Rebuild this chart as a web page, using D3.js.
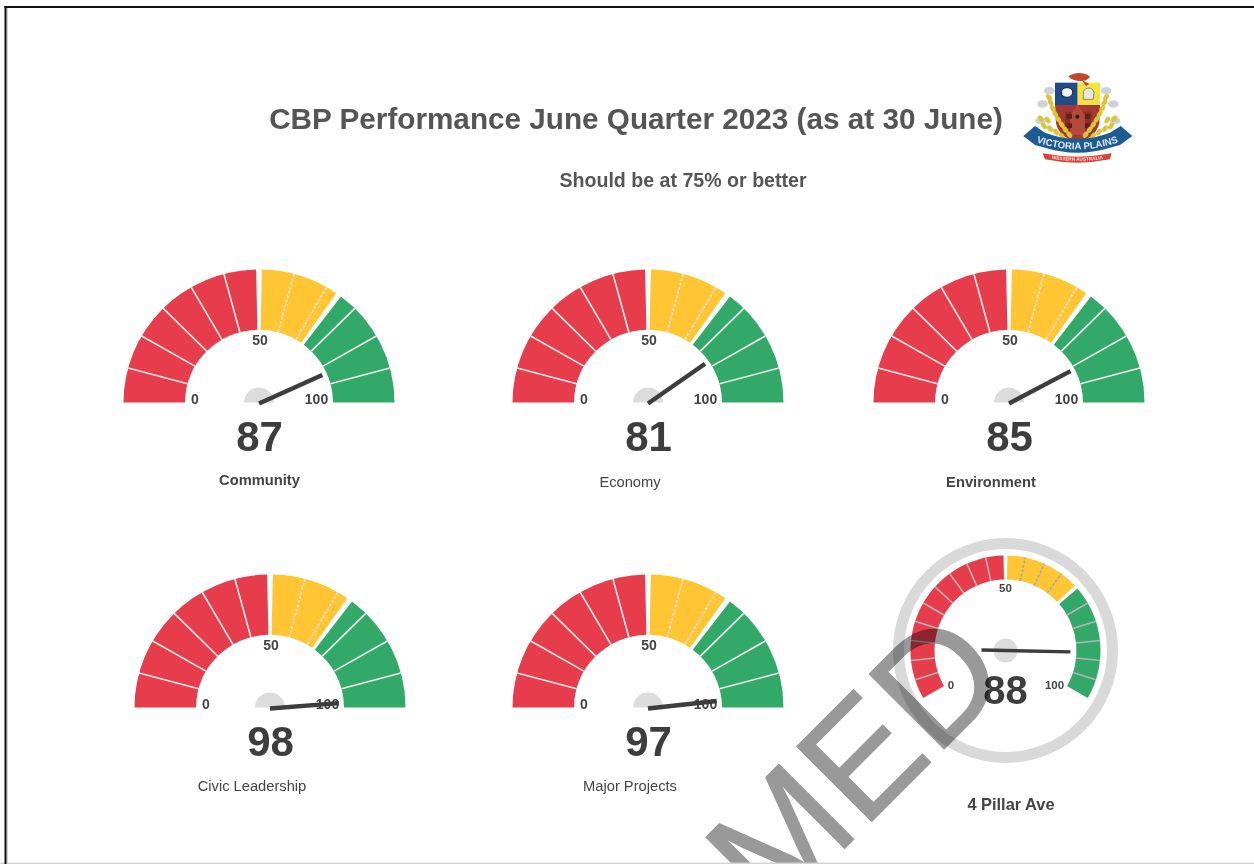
<!DOCTYPE html>
<html><head><meta charset="utf-8">
<script src="https://cdn.jsdelivr.net/npm/d3@7"></script>
<style>
html,body{margin:0;padding:0;background:#fff}
svg{display:block}
text{font-family:"Liberation Sans",Arial,sans-serif}
</style></head><body>
<svg id="c" width="1254" height="864"></svg>
<script>
// ---- data ----
const titleText = "CBP Performance June Quarter 2023 (as at 30 June)";
const subtitleText = "Should be at 75% or better";
const gaugeNames = ["Community","Economy","Environment","Civic Leadership","Major Projects","4 Pillar Ave"];
const gaugeValues = [87,81,85,98,97,88];
const nameIsBold = [true,false,true,false,false,true];
const bandStarts = [0,50,70];
const bandEnds = [50,70,100];
const bandColors = ["#e63c4b","#ffc533","#32a968"];
const tickLabels = [0,50,100];
const semiDivisions = 12;
const roundDivisions = 20;

// ---- layout ----
const semiLayout = [
  {cx:259,cy:402.5,nameX:259.5,nameY:485},
  {cx:648,cy:402.5,nameX:630,nameY:487},
  {cx:1009,cy:402.5,nameX:991,nameY:487},
  {cx:270,cy:707.5,nameX:252,nameY:791},
  {cx:648,cy:707.5,nameX:630,nameY:791}
];
const round = {cx:1005.5,cy:650.5,nameX:1011,nameY:810};

const svg = d3.select("#c");
const rad = d => d*Math.PI/180;
const ink = "#3d3d3d";

function polar(a,r){ return [r*Math.sin(a), -r*Math.cos(a)]; }

function drawGauge(g,o){
  const angle = d3.scaleLinear().domain([0,100]).range(o.range);
  const arc = d3.arc().innerRadius(o.inner).outerRadius(o.outer);
  const ticks = d3.range(1,o.divisions).map(i=>i*100/o.divisions)
    .filter(t=>!bandStarts.includes(Math.round(t)) );
  g.selectAll("path.band").data(bandStarts).join("path")
    .attr("class","band")
    .attr("fill",(d,i)=>bandColors[i])
    .attr("d",(d,i)=>{
      const pad = o.gap/((o.inner+o.outer)/2)/2;
      const a0 = angle(d)+(i>0?pad:0), a1 = angle(bandEnds[i])-(i<2?pad:0);
      return arc({startAngle:a0,endAngle:a1});
    });
  g.selectAll("line.tick").data(ticks).join("line")
    .attr("class","tick")
    .attr("x1",t=>polar(angle(t),o.inner)[0]).attr("y1",t=>polar(angle(t),o.inner)[1])
    .attr("x2",t=>polar(angle(t),o.outer)[0]).attr("y2",t=>polar(angle(t),o.outer)[1])
    .attr("stroke",t=>(t>50&&t<70)?o.tickColorMid:o.tickColor)
    .attr("stroke-width",o.tickWidth)
    .attr("stroke-dasharray",t=>(t>50&&t<70)?"3 1.5":null);
}

// semicircle gauges
semiLayout.forEach((p,i)=>{
  const g = svg.append("g").attr("transform",`translate(${p.cx},${p.cy})`);
  const o = {range:[rad(-90),rad(90)],inner:74,outer:135.5,divisions:semiDivisions,gap:4.5,tickColor:"#ececec",tickColorMid:"#e2e2e2",tickWidth:1.6};
  drawGauge(g.append("g").attr("transform","scale(1,0.982)"),o);
  g.append("path").attr("fill","#dcdcdc")
    .attr("d",d3.arc().innerRadius(0).outerRadius(15).startAngle(rad(-90)).endAngle(rad(90))());
  const lx = [-64,1,57.5];
  const ly = [1.5,-58,1.5];
  g.selectAll("text.tl").data(tickLabels).join("text").attr("class","tl")
    .attr("x",(d,k)=>lx[k]).attr("y",(d,k)=>ly[k])
    .attr("text-anchor","middle").attr("font-size",14).attr("font-weight",700).attr("fill","#444")
    .text(d=>d);
  const angle = d3.scaleLinear().domain([0,100]).range(o.range);
  const tip = polar(angle(gaugeValues[i]),69);
  g.append("line").attr("x1",0).attr("y1",1).attr("x2",tip[0]).attr("y2",tip[1])
    .attr("stroke",ink).attr("stroke-width",4.4);
  g.append("text").attr("x",0.5).attr("y",48).attr("text-anchor","middle")
    .attr("font-size",42).attr("font-weight",700).attr("fill",ink).text(gaugeValues[i]);
  svg.append("text").attr("x",p.nameX).attr("y",p.nameY).attr("text-anchor","middle")
    .attr("font-size",14.7).attr("font-weight",nameIsBold[i]?700:400).attr("fill","#444").text(gaugeNames[i]);
});

// round gauge
{
  const g = svg.append("g").attr("transform",`translate(${round.cx},${round.cy})`);
  g.append("circle").attr("r",107).attr("fill","none").attr("stroke","#d9d9d9").attr("stroke-width",11);
  const o = {range:[rad(-120),rad(120)],inner:71,outer:95,divisions:roundDivisions,gap:3.5,tickColor:"#b4b4b4",tickColorMid:"#a8a8a8",tickWidth:1.6};
  drawGauge(g,o);
  g.append("circle").attr("r",12).attr("fill","#dcdcdc");
  const lx = [-54.5,0,49];
  const ly = [38.5,-59,38.5];
  g.selectAll("text.tl").data(tickLabels).join("text").attr("class","tl")
    .attr("x",(d,k)=>lx[k]).attr("y",(d,k)=>ly[k])
    .attr("text-anchor","middle").attr("font-size",11.5).attr("font-weight",700).attr("fill","#444")
    .text(d=>d);
  const angle = d3.scaleLinear().domain([0,100]).range(o.range);
  const a = angle(gaugeValues[5]);
  const tip = polar(a,65), tail = polar(a,-24);
  g.append("line").attr("x1",tail[0]).attr("y1",tail[1]).attr("x2",tip[0]).attr("y2",tip[1])
    .attr("stroke",ink).attr("stroke-width",3.4);
  g.append("text").attr("x",0).attr("y",53).attr("text-anchor","middle")
    .attr("font-size",40).attr("font-weight",700).attr("fill",ink).text(gaugeValues[5]);
  svg.append("text").attr("x",round.nameX).attr("y",round.nameY).attr("text-anchor","middle")
    .attr("font-size",16.4).attr("font-weight",700).attr("fill","#444").text(gaugeNames[5]);
}

// headings
svg.append("text").attr("x",636).attr("y",129).attr("text-anchor","middle")
  .attr("font-size",29.7).attr("font-weight",700).attr("fill","#555").text(titleText);
svg.append("text").attr("x",683).attr("y",187).attr("text-anchor","middle")
  .attr("font-size",19.6).attr("font-weight",700).attr("fill","#555").text(subtitleText);

// crest (drawn in 3x units)
const crest = svg.append("g").attr("transform","translate(1000,60) scale(0.3333)");
const P = (d,f,s,w)=>crest.append("path").attr("d",d).attr("fill",f||"none").attr("stroke",s||"none").attr("stroke-width",w||0);
// silver sprigs
[[148,92],[128,132],[122,182],[318,92],[340,132],[345,182]].forEach(([x,y])=>{
  crest.append("ellipse").attr("cx",x).attr("cy",y).attr("rx",16).attr("ry",11).attr("fill","#cfd2d4");
});
// shield
P("M165,68 L233,68 L233,135 L165,135 Z","#1d4b8c");
P("M233,68 L300,68 L300,135 L233,135 Z","#f3e33c");
P("M165,135 L300,135 L298,190 C290,225 260,240 233,248 C205,240 175,225 168,190 Z","#a33a32");
P("M195,155 L275,155 L275,222 L195,222 Z","#8c2d2a");
P("M233,135 L255,165 L255,225 L210,225 L210,165 Z","#b5473c");
[[200,162],[200,190],[255,162],[255,190]].forEach(([x,y])=>{
  crest.append("rect").attr("x",x).attr("y",y).attr("width",16).attr("height",14).attr("fill","#5e1f1f");
});
crest.append("circle").attr("cx",232).attr("cy",170).attr("r",6).attr("fill","#222");
P("M185,90 C195,78 220,82 218,98 C215,115 195,115 185,105 Z","#f2f2f2","#222",3);
P("M250,95 C255,80 280,80 282,98 L280,118 L250,118 Z","#e8e8d8","#888",3);
// wheat ears, in front of the shield
const wheatLeft = [[147,112],[152,128],[158,145],[166,162],[175,178],[185,194],[196,209],[208,224],[132,198],[150,206],[168,216],[186,228],[122,176],[143,180]];
wheatLeft.forEach(([x,y])=>{
  crest.append("ellipse").attr("cx",x).attr("cy",y).attr("rx",11).attr("ry",7).attr("fill","#dcc436")
    .attr("transform",`rotate(55 ${x} ${y})`);
  crest.append("ellipse").attr("cx",465-x).attr("cy",y).attr("rx",11).attr("ry",7).attr("fill","#dcc436")
    .attr("transform",`rotate(-55 ${465-x} ${y})`);
});
// mantling crest
P("M205,50 C220,35 255,35 270,50 C262,66 225,68 205,50 Z","#c5452a");
P("M245,60 L268,72 L258,78 Z","#c5452a");
// banner
P("M70,228 L105,198 L135,218 Q232,255 330,218 L362,198 L397,228 L360,255 L335,262 Q232,295 130,262 L105,255 Z","#1b5c92");
// red ribbon
P("M128,280 Q230,300 335,280 L330,298 Q230,318 135,298 Z","#d8443c");
crest.append("path").attr("id","bannerCurve").attr("fill","none")
  .attr("d","M106,246 Q232,290 358,246");
crest.append("text").attr("font-family","Liberation Serif").attr("font-weight",700).attr("font-size",29).attr("fill","#dfe9f2")
  .append("textPath").attr("href","#bannerCurve").attr("startOffset","50%").attr("text-anchor","middle").text("VICTORIA PLAINS");
crest.append("path").attr("id","ribbonCurve").attr("fill","none")
  .attr("d","M135,293 Q232,312 330,293");
crest.append("text").attr("font-weight",700).attr("font-size",14).attr("fill","#f7e0dd")
  .append("textPath").attr("href","#ribbonCurve").attr("startOffset","50%").attr("text-anchor","middle").text("WESTERN AUSTRALIA");

// watermark
svg.append("text").attr("transform","translate(772,921) rotate(-45)")
  .attr("font-size",154).attr("fill","#999").attr("stroke","#999").attr("stroke-width",1.2)
  .style("mix-blend-mode","multiply").text("MED");

// page frame
svg.append("rect").attr("x",0).attr("y",862.5).attr("width",1254).attr("height",1.5).attr("fill","#d4d4d4");
svg.append("rect").attr("x",6.5).attr("y",8).attr("width",1.5).attr("height",856).attr("fill","#d4d4d4");
svg.append("rect").attr("x",4.5).attr("y",6).attr("width",1249.5).attr("height",2).attr("fill","#111");
svg.append("rect").attr("x",4.5).attr("y",6).attr("width",2).attr("height",858).attr("fill","#111");
</script>
</body></html>
